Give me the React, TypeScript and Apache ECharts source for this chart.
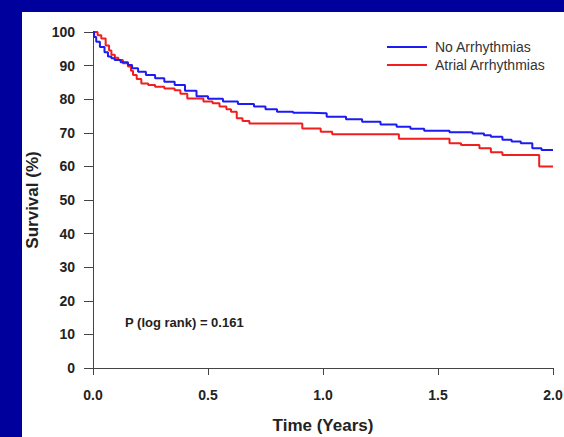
import React, { useEffect, useRef } from "react";
import * as echarts from "echarts";

const yTicks = [0, 10, 20, 30, 40, 50, 60, 70, 80, 90, 100];
const xTicks = [0, 0.5, 1.0, 1.5, 2.0];

const noArrTime = [0, 0.005, 0.014, 0.03, 0.05, 0.065, 0.08, 0.094, 0.12, 0.152, 0.17, 0.196, 0.23, 0.27, 0.31, 0.355, 0.4, 0.45, 0.5, 0.565, 0.63, 0.7, 0.75, 0.8, 0.87, 0.94, 1.016, 1.1, 1.17, 1.25, 1.32, 1.38, 1.44, 1.55, 1.65, 1.7, 1.73, 1.78, 1.82, 1.86, 1.91, 1.95, 2.0];
const noArrSurv = [100, 98.5, 97.1, 95.5, 94, 92.7, 92.2, 91.7, 91, 90.2, 89.2, 88.2, 87.2, 86.2, 85.2, 84.2, 82.5, 80.9, 80.1, 79.3, 78.6, 77.8, 77, 76.3, 76, 75.8, 74.8, 74, 73.3, 72.5, 71.8, 71.2, 70.6, 70.2, 69.8, 69.3, 68.8, 67.9, 67.4, 66.9, 65.4, 64.9, 64.7];

const atrialTime = [0, 0.02, 0.036, 0.055, 0.07, 0.08, 0.095, 0.11, 0.13, 0.152, 0.165, 0.174, 0.19, 0.21, 0.24, 0.27, 0.31, 0.355, 0.38, 0.41, 0.48, 0.52, 0.55, 0.58, 0.6, 0.625, 0.65, 0.68, 0.91, 0.99, 1.04, 1.33, 1.55, 1.6, 1.68, 1.73, 1.78, 1.94, 2.0];
const atrialSurv = [100, 99, 98.1, 96, 94.5, 93.2, 92.3, 91.7, 90.7, 89.7, 88.5, 87.2, 86, 84.7, 84.2, 83.7, 83.2, 82.7, 81.6, 80.2, 79.3, 78.8, 77.8, 77, 76.3, 74.3, 73.5, 72.8, 71.3, 70.3, 69.6, 68.2, 66.9, 66.4, 65.4, 64.2, 63.4, 60, 60];

const seriesNames = ["No Arrhythmias", "Atrial Arrhythmias"];
const pText = "P (log rank) = 0.161";

const FONT = "'Liberation Sans', Arial, sans-serif";

export default function App() {
  const ref = useRef<HTMLDivElement>(null);
  useEffect(() => {
    if (!ref.current) return;
    const chart = echarts.init(ref.current, null, { renderer: "svg" });
    const zip = (t: number[], v: number[]) => t.map((x, i) => [x, v[i]]);
    chart.setOption({
      animation: false,
      backgroundColor: "#00009c",
      graphic: [
        { type: "rect", left: 22, top: 12, shape: { width: 542, height: 425 }, style: { fill: "#ffffff" }, z: -10 },
        {
          type: "text",
          left: 125,
          top: 316,
          style: { text: pText, font: `bold 13px ${FONT}`, fill: "#222" },
        },
      ],
      legend: {
        orient: "vertical",
        left: 382,
        top: 34,
        itemWidth: 40,
        itemHeight: 2,
        itemGap: 2,
        icon: "rect",
        textStyle: { fontFamily: FONT, fontSize: 14, lineHeight: 16, color: "#333", padding: [0, 0, 0, 3] },
        data: seriesNames,
      },
      grid: { left: 93, right: 11, top: 32, bottom: 69, containLabel: false, outerBoundsMode: "none" },
      xAxis: {
        type: "value",
        min: 0,
        max: 2,
        interval: 0.5,
        name: "Time (Years)",
        nameLocation: "middle",
        nameGap: 49,
        nameTextStyle: { fontFamily: FONT, fontSize: 17, fontWeight: "bold", color: "#222" },
        axisLine: { show: true, lineStyle: { color: "#444", width: 1 } },
        axisTick: { show: true, length: 7, lineStyle: { color: "#444" } },
        splitLine: { show: false },
        axisLabel: {
          margin: 20,
          fontFamily: FONT,
          fontSize: 14,
          fontWeight: "bold",
          color: "#222",
          formatter: (v: number) => {
            const i = xTicks.indexOf(v);
            return i >= 0 ? xTicks[i].toFixed(1) : "";
          },
        },
      },
      yAxis: {
        type: "value",
        min: 0,
        max: 100,
        interval: 10,
        name: "Survival (%)",
        nameLocation: "middle",
        nameGap: 51,
        nameTextStyle: { fontFamily: FONT, fontSize: 17, fontWeight: "bold", color: "#222" },
        axisLine: { show: true, lineStyle: { color: "#444", width: 1 } },
        axisTick: { show: true, length: 9, lineStyle: { color: "#444" } },
        splitLine: { show: false },
        axisLabel: {
          margin: 18,
          fontFamily: FONT,
          fontSize: 14,
          fontWeight: "bold",
          color: "#222",
          formatter: (v: number) => (yTicks.includes(v) ? String(v) : ""),
        },
      },
      series: [
        {
          name: seriesNames[0],
          type: "line",
          step: "end",
          showSymbol: false,
          symbol: "none",
          data: zip(noArrTime, noArrSurv),
          lineStyle: { color: "#1c1cf0", width: 2 },
          itemStyle: { color: "#1c1cf0" },
          z: 3,
        },
        {
          name: seriesNames[1],
          type: "line",
          step: "end",
          showSymbol: false,
          symbol: "none",
          data: zip(atrialTime, atrialSurv),
          lineStyle: { color: "#f01e1e", width: 2 },
          itemStyle: { color: "#f01e1e" },
          z: 2,
        },
      ],
    });
    return () => chart.dispose();
  }, []);
  return <div ref={ref} style={{ width: 564, height: 437, position: "absolute", left: 0, top: 0 }} />;
}
